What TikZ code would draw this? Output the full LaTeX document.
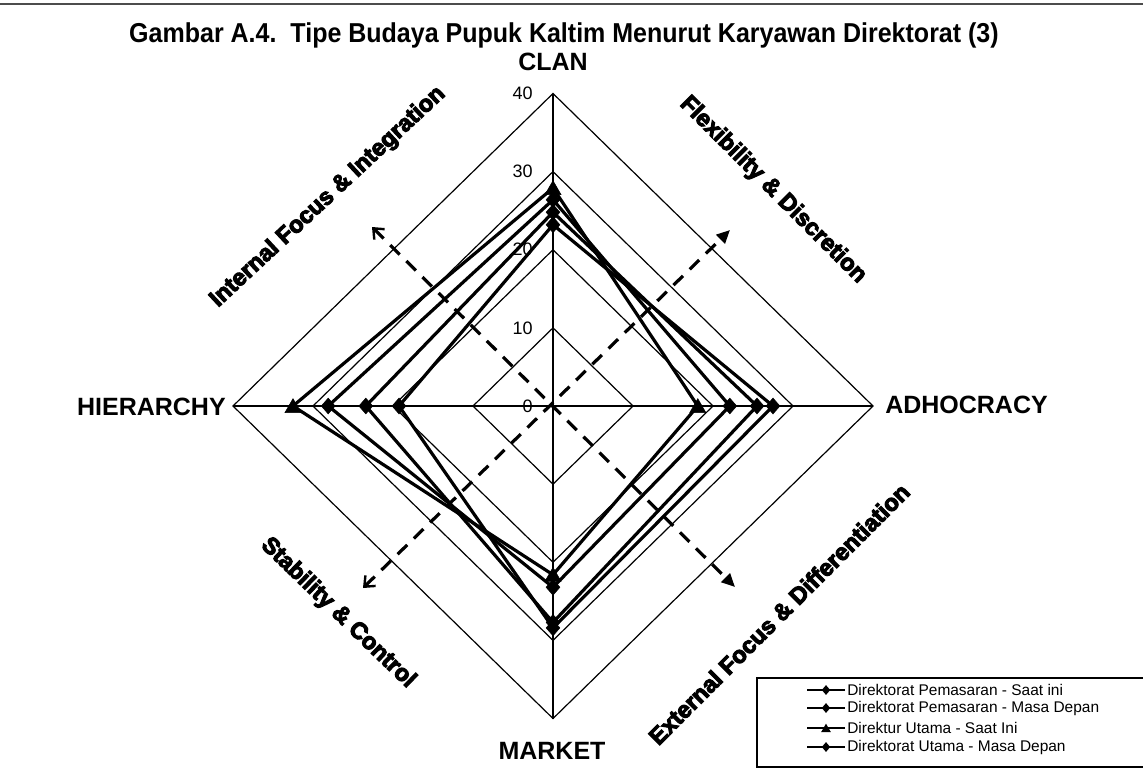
\documentclass[tikz,border=0pt]{standalone}
\usepackage{fontspec}
\setmainfont{Liberation Sans}
\newfontfamily\heavy{Liberation Sans}[BoldFeatures={FakeBold=4.5}]
\usetikzlibrary{arrows.meta,shapes.geometric}
\begin{document}
\begin{tikzpicture}[x=0.75pt,y=-0.75pt,
  grid/.style={line width=0.9pt,black},
  series/.style={line width=2.4pt,black,line join=miter},
  dmark/.style={diamond,fill=black,draw=black,inner sep=0pt,minimum width=10.5pt,minimum height=12pt},
  tmark/.style={regular polygon,regular polygon sides=3,fill=black,draw=black,inner sep=0pt,minimum size=14pt},
  ldmark/.style={diamond,fill=black,inner sep=0pt,minimum width=6.5pt,minimum height=7.5pt},
  ltmark/.style={regular polygon,regular polygon sides=3,fill=black,inner sep=0pt,minimum size=8.5pt},
  axlab/.style={font=\bfseries\fontsize{18.75}{22}\selectfont,inner sep=0pt},
  numlab/.style={font=\fontsize{13.5}{16}\selectfont,inner sep=0pt,anchor=east},
  diaglab/.style={font=\heavy\bfseries\fontsize{17.6}{20}\selectfont,inner sep=0pt},
  dasharrow/.style={line width=2.4pt,dash pattern=on 10pt off 7pt},
  legtext/.style={font=\fontsize{11.6}{14}\selectfont,inner sep=0pt,anchor=west},
  legline/.style={line width=1.8pt}
]
\useasboundingbox (0,0) rectangle (1143,769);
\fill[white] (0,0) rectangle (1143,769);
\draw[line width=0.8pt,black!70] (0,4) -- (1143,4);

% title
\node[font=\bfseries\fontsize{20.5}{24}\selectfont,inner sep=0pt,anchor=base] (title) at (564,42)
  {\scalebox{0.915}[1]{Gambar A.4.\ \ Tipe Budaya Pupuk Kaltim Menurut Karyawan Direktorat (3)}};

% grid rings
\foreach \r in {10,20,30,40}
  \draw[grid] (553,{406-\r*7.8125}) -- ({553+\r*8},406) -- (553,{406+\r*7.8125}) -- ({553-\r*8},406) -- cycle;
\coordinate (ctop) at (553,93.5);
\coordinate (cbot) at (553,718.5);
\coordinate (cleft) at (233,406);
\coordinate (cright) at (873,406);
\draw[grid] (ctop) -- (cbot);
\draw[grid] (cleft) -- (cright);

% scale labels
\foreach \r in {0,10,20,30,40}
  \node[numlab] (n\r) at (533,{406-\r*7.8125}) {\r};

% dashed arrows
\coordinate (aIF) at (372,227);
\coordinate (aEF) at (735,587);
\coordinate (aFD) at (730,230);
\coordinate (aSC) at (363,588);
\draw[dasharrow,{Straight Barb[length=6.5pt,width=11pt,line width=1.8pt]}-{Triangle[length=10pt,width=9pt]}] (aIF) -- (aEF);
\draw[dasharrow,{Straight Barb[length=6.5pt,width=11pt,line width=1.8pt]}-{Triangle[length=10pt,width=9pt]}] (aSC) -- (aFD);

% series coordinates
% S1 Pemasaran Saat ini
\coordinate (s1c) at (553,{406-24.8*7.8125});
\coordinate (s1a) at ({553+25.5*8},406);
\coordinate (s1m) at (553,{406+27.7*7.8125});
\coordinate (s1h) at ({553-23.4*8},406);
% S2 Pemasaran Masa Depan
\coordinate (s2c) at (553,{406-23.2*7.8125});
\coordinate (s2a) at ({553+27.5*8},406);
\coordinate (s2m) at (553,{406+28.4*7.8125});
\coordinate (s2h) at ({553-19.25*8},406);
% S3 Direktur Utama Saat Ini
\coordinate (s3c) at (553,{406-27.9*7.8125});
\coordinate (s3a) at ({553+18.1*8},406);
\coordinate (s3m) at (553,{406+21.6*7.8125});
\coordinate (s3h) at ({553-32.5*8},406);
% S4 Direktorat Utama Masa Depan
\coordinate (s4c) at (553,{406-26.4*7.8125});
\coordinate (s4a) at ({553+22.1*8},406);
\coordinate (s4m) at (553,{406+23.2*7.8125});
\coordinate (s4h) at ({553-28.1*8},406);

\foreach \s in {1,2,3,4}
  \draw[series] (s\s c) -- (s\s a) -- (s\s m) -- (s\s h) -- cycle;
\foreach \s in {1,2,4}
  \foreach \p in {c,a,m,h}
    \node[dmark] (mk\s\p) at (s\s\p) {};
\foreach \p in {c,a,m,h}
  \node[tmark,yshift=-1.5pt] (mk3\p) at (s3\p) {};

% axis labels
\node[axlab] (clan) at (553,62) {CLAN};
\node[axlab,anchor=east] (hier) at (226,407) {HIERARCHY};
\node[axlab,anchor=west] (adho) at (885,405) {ADHOCRACY};
\node[axlab] (mkt) at (552,751) {MARKET};

% diagonal labels
\node[diaglab,rotate=43] (lIF) at (328,197) {Internal Focus \& Integration};
\node[diaglab,rotate=-45] (lFD) at (773,190) {Flexibility \& Discretion};
\node[diaglab,rotate=-44] (lSC) at (338,613) {Stability \& Control};
\node[diaglab,rotate=45] (lEF) at (779,614) {External Focus \& Differentiation};

% legend
\draw[line width=0.9pt] (1145,678) -- (757,678) -- (757,767) -- (1145,767);
\foreach \i/\yy/\t in {1/690/{Direktorat Pemasaran - Saat ini},2/708/{Direktorat Pemasaran - Masa Depan},3/728/{Direktur Utama - Saat Ini},4/747/{Direktorat Utama - Masa Depan}}{
  \coordinate (la\i) at (807,\yy);
  \coordinate (lb\i) at (845,\yy);
  \draw[legline] (la\i) -- (lb\i);
  \node[legtext] (lt\i) at (847,\yy) {\t};
}
\node[ldmark] (lm1) at (826,690) {};
\node[ldmark] (lm2) at (826,708) {};
\node[ltmark,yshift=-1pt] (lm3) at (826,728) {};
\node[ldmark] (lm4) at (826,747) {};
\end{tikzpicture}
\end{document}
